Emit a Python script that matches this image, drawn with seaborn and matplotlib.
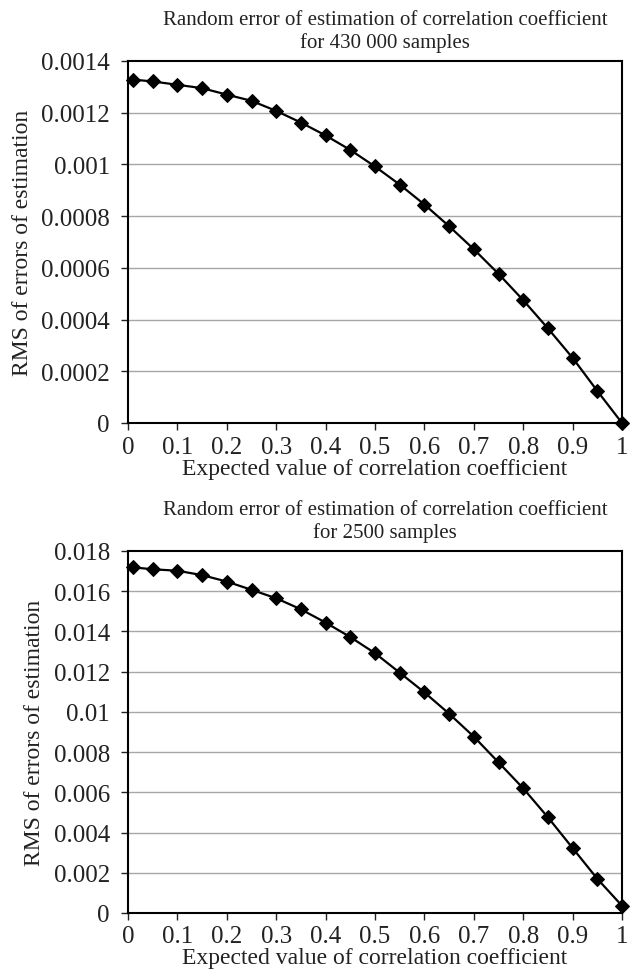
import matplotlib
matplotlib.use("Agg")
import matplotlib.pyplot as plt
import seaborn as sns
import pandas as pd

# Expected value of the correlation coefficient
r_expected = [0.01, 0.05, 0.10, 0.15, 0.20, 0.25, 0.30, 0.35, 0.40, 0.45, 0.50,
              0.55, 0.60, 0.65, 0.70, 0.75, 0.80, 0.85, 0.90, 0.95, 1.00]

# RMS of estimation errors, 430 000 samples
rms_430000 = [0.001328, 0.001321, 0.001308, 0.001295, 0.001270, 0.001246, 0.001207,
              0.001162, 0.001112, 0.001056, 0.000992, 0.000922, 0.000845, 0.000761,
              0.000672, 0.000577, 0.000475, 0.000366, 0.000252, 0.000124, 0.0]

# RMS of estimation errors, 2500 samples
rms_2500 = [0.01719, 0.01709, 0.01702, 0.01680, 0.01648, 0.01607, 0.01565,
            0.01510, 0.01444, 0.01372, 0.01292, 0.01195, 0.01097, 0.00991,
            0.00877, 0.00749, 0.00620, 0.00476, 0.00323, 0.00170, 0.00036]

x_ticks = [0, 0.1, 0.2, 0.3, 0.4, 0.5, 0.6, 0.7, 0.8, 0.9, 1]
y_ticks_430000 = [0, 0.0002, 0.0004, 0.0006, 0.0008, 0.001, 0.0012, 0.0014]
y_ticks_2500 = [0, 0.002, 0.004, 0.006, 0.008, 0.01, 0.012, 0.014, 0.016, 0.018]

titles = ["Random error of estimation of correlation coefficient\nfor 430 000 samples",
          "Random error of estimation of correlation coefficient\nfor 2500 samples"]
x_label = "Expected value of correlation coefficient"
y_label = "RMS of errors of estimation"

sns.set_theme(style="white")
plt.rcParams["font.family"] = ["Liberation Serif", "DejaVu Serif"]
plt.rcParams["text.color"] = "#222222"
plt.rcParams["axes.labelcolor"] = "#222222"
plt.rcParams["xtick.color"] = "#222222"
plt.rcParams["ytick.color"] = "#222222"

fig = plt.figure(figsize=(6.30, 9.79), dpi=100)
left, right = 128, 622
ax_top = fig.add_axes([left / 630, 1 - 424 / 979, (right - left) / 630, 362 / 979])
ax_bot = fig.add_axes([left / 630, 1 - 914 / 979, (right - left) / 630, 362 / 979])

panels = [
    (ax_top, rms_430000, y_ticks_430000, titles[0]),
    (ax_bot, rms_2500, y_ticks_2500, titles[1]),
]

for ax, values, yt, title in panels:
    df = pd.DataFrame({"r": r_expected, "rms": values})
    ax.set_axisbelow(True)
    for v in yt[1:-1]:
        ax.axhline(v, color="#a6a6a6", lw=1.0, zorder=0)
    sns.lineplot(data=df, x="r", y="rms", ax=ax, color="black", lw=1.6,
                 marker="D", markersize=7, markeredgecolor="black",
                 markerfacecolor="black", clip_on=False, zorder=3)
    ax.set_xlim(0, 1)
    ax.set_ylim(yt[0], yt[-1])
    ax.set_xticks(x_ticks)
    ax.set_xticklabels([f"{t:g}" for t in x_ticks])
    ax.set_yticks(yt)
    ax.set_yticklabels([f"{t:g}" for t in yt])
    ax.tick_params(axis="both", direction="out", length=5, width=1.0,
                   labelsize=18, bottom=True, left=True)
    ax.tick_params(axis="y", pad=8)
    ax.tick_params(axis="x", pad=4)
    for s in ax.spines.values():
        s.set_color("black")
        s.set_linewidth(1.5)
    ax.set_xlabel(x_label, fontsize=17, labelpad=0)
    ax.set_ylabel(y_label, fontsize=17, labelpad=6)
    ax.set_title(title, fontsize=15, pad=10, linespacing=1.2, x=0.52)

fig.savefig("out.png", dpi=100, facecolor="white")
